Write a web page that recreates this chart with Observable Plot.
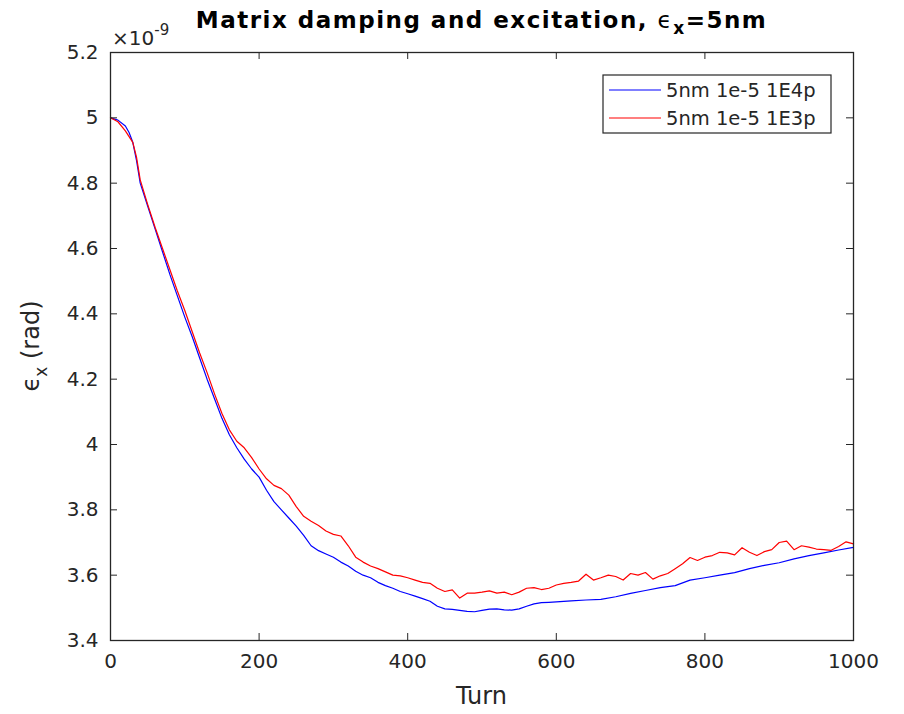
<!DOCTYPE html>
<html><head><meta charset="utf-8">
<script src="https://cdn.jsdelivr.net/npm/d3@7"></script>
<script src="https://cdn.jsdelivr.net/npm/@observablehq/plot@0.6"></script>
<style>body{margin:0;background:#fff;} svg{display:block}</style>
</head><body><div id="chart"></div>
<script>
// Series names and colours
const seriesNames = ["5nm 1e-5 1E4p", "5nm 1e-5 1E3p"];
const seriesColors = ["#0000ff", "#ff0000"];

// Blue series: 5nm 1e-5 1E4p (emittance in units of 1e-9 rad)
const turnsBlue = [0,10,20,25,30,35,40,50,60,70,80,90,100,110,120,130,140,150,160,170,180,190,200,210,220,230,240,250,260,270,280,290,300,310,320,330,340,350,360,370,380,390,400,410,420,430,440,450,460,470,480,490,500,510,520,530,540,550,560,570,580,590,600,620,640,660,680,700,720,740,760,780,800,820,840,860,880,900,920,940,960,980,1000];
const epsBlue = [5.000,4.993,4.975,4.955,4.925,4.870,4.800,4.730,4.660,4.590,4.520,4.455,4.390,4.330,4.265,4.200,4.140,4.080,4.030,3.990,3.955,3.925,3.900,3.860,3.825,3.800,3.775,3.750,3.722,3.690,3.675,3.665,3.655,3.640,3.628,3.612,3.600,3.592,3.578,3.568,3.560,3.550,3.543,3.536,3.528,3.520,3.505,3.497,3.495,3.492,3.489,3.488,3.492,3.496,3.497,3.494,3.493,3.497,3.505,3.512,3.516,3.517,3.518,3.521,3.524,3.526,3.534,3.544,3.553,3.562,3.568,3.585,3.592,3.600,3.608,3.620,3.630,3.638,3.650,3.660,3.668,3.677,3.685];

// Red series: 5nm 1e-5 1E3p
const turnsRed = [0,10,20,30,35,40,50,60,70,80,90,100,110,120,130,140,150,160,170,180,190,200,210,220,230,240,250,260,270,280,290,300,310,320,330,340,350,360,370,380,390,400,410,420,430,440,450,460,470,480,490,500,510,520,530,540,550,560,570,580,590,600,610,620,630,640,650,660,670,680,690,700,710,720,730,740,750,760,770,780,790,800,810,820,830,840,850,860,870,880,890,900,910,920,930,940,950,960,970,980,990,1000];
const epsRed = [5.000,4.988,4.960,4.925,4.880,4.810,4.735,4.665,4.600,4.535,4.470,4.410,4.345,4.280,4.220,4.155,4.095,4.045,4.010,3.990,3.960,3.925,3.895,3.875,3.865,3.845,3.810,3.780,3.765,3.752,3.735,3.725,3.720,3.690,3.655,3.640,3.628,3.620,3.610,3.600,3.598,3.592,3.585,3.578,3.575,3.560,3.550,3.555,3.530,3.545,3.545,3.548,3.552,3.545,3.548,3.540,3.548,3.560,3.562,3.556,3.560,3.570,3.575,3.578,3.582,3.603,3.585,3.592,3.600,3.596,3.585,3.605,3.600,3.608,3.588,3.598,3.605,3.620,3.635,3.654,3.645,3.655,3.660,3.670,3.668,3.662,3.684,3.670,3.660,3.672,3.678,3.700,3.704,3.678,3.690,3.686,3.680,3.678,3.676,3.688,3.702,3.696];

// Tick values
const xTicks = [0, 200, 400, 600, 800, 1000];
const yTicks = [3.4, 3.6, 3.8, 4.0, 4.2, 4.4, 4.6, 4.8, 5.0, 5.2];

const rows = [
  ...turnsBlue.map((t, i) => ({turn: t, eps: epsBlue[i], series: seriesNames[0]})),
  ...turnsRed.map((t, i) => ({turn: t, eps: epsRed[i], series: seriesNames[1]}))
];

const W = 904, H = 714, mL = 110, mR = 51, mT = 52, mB = 74;
const fh = H - mT - mB, fw = W - mL - mR, tk = 7;
const axisColor = "#262626";

const plot = Plot.plot({
  width: W, height: H,
  marginLeft: mL, marginRight: mR, marginTop: mT, marginBottom: mB,
  style: {fontFamily: "DejaVu Sans", fontSize: "20px", color: axisColor, background: "#fff"},
  x: {domain: [0, 1000], ticks: xTicks, tickSize: 0, tickPadding: 13, label: null, tickFormat: d => String(d)},
  y: {domain: [3.4, 5.2], ticks: yTicks, tickSize: 0, tickPadding: 12, label: null, tickFormat: d => String(+d.toFixed(1))},
  color: {domain: seriesNames, range: seriesColors},
  marks: [
    Plot.line(rows, {x: "turn", y: "eps", stroke: "series", z: "series", strokeWidth: 1.2}),
    Plot.tickX(xTicks, {x: d => d, insetTop: fh - tk, stroke: axisColor}),
    Plot.tickX(xTicks, {x: d => d, insetBottom: fh - tk, stroke: axisColor}),
    Plot.tickY(yTicks, {y: d => d, insetRight: fw - tk, stroke: axisColor}),
    Plot.tickY(yTicks, {y: d => d, insetLeft: fw - tk, stroke: axisColor}),
    Plot.frame({stroke: axisColor, strokeWidth: 1.3})
  ]
});

const svg = d3.select(plot);
const font = "DejaVu Sans";

// Title
const title = svg.append("text")
  .attr("x", mL + fw / 2).attr("y", 28)
  .attr("text-anchor", "middle")
  .attr("font-family", font).attr("font-size", 23).attr("font-weight", "bold")
  .attr("letter-spacing", "1.5px")
  .attr("fill", "#000");
title.append("tspan").text("Matrix damping and excitation, ");
title.append("tspan").attr("font-weight", "normal").text("ϵ");
title.append("tspan").attr("font-size", 17).attr("dy", 6).text("x");
title.append("tspan").attr("dy", -6).text("=5nm");

// Exponent label
const expo = svg.append("text")
  .attr("x", 112).attr("y", 45)
  .attr("text-anchor", "start")
  .attr("font-family", font).attr("font-size", 20).attr("fill", axisColor);
expo.append("tspan").text("×10");
expo.append("tspan").attr("font-size", 15).attr("dy", -10).text("-9");

// X label
svg.append("text")
  .attr("x", mL + fw / 2).attr("y", 704)
  .attr("text-anchor", "middle")
  .attr("font-family", font).attr("font-size", 24).attr("fill", axisColor)
  .text("Turn");

// Y label
const yl = svg.append("text")
  .attr("transform", `translate(39,${mT + fh / 2}) rotate(-90)`)
  .attr("text-anchor", "middle")
  .attr("font-family", font).attr("font-size", 24).attr("fill", axisColor);
yl.append("tspan").text("ϵ");
yl.append("tspan").attr("font-size", 17).attr("dy", 8).text("x");
yl.append("tspan").attr("dy", -8).text(" (rad)");

// Legend
const lg = svg.append("g");
lg.append("rect").attr("x", 603).attr("y", 75).attr("width", 228).attr("height", 58)
  .attr("fill", "#fff").attr("stroke", axisColor).attr("stroke-width", 1.2);
seriesNames.forEach((name, i) => {
  const y = 90 + i * 28;
  lg.append("line").attr("x1", 609).attr("x2", 661).attr("y1", y).attr("y2", y)
    .attr("stroke", seriesColors[i]).attr("stroke-width", 1.2);
  lg.append("text").attr("x", 666).attr("y", y).attr("dy", "0.36em")
    .attr("text-anchor", "start")
    .attr("font-family", font).attr("font-size", 19.5).attr("fill", axisColor)
    .text(name);
});

document.getElementById("chart").appendChild(plot);
</script>
</body></html>
